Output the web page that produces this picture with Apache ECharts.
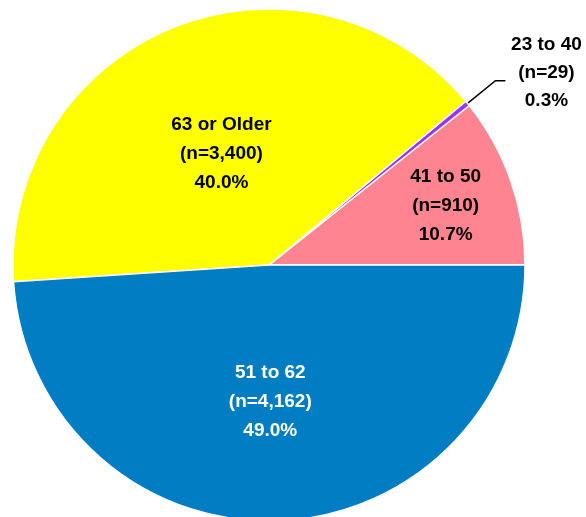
<!DOCTYPE html>
<html>
<head>
<meta charset="utf-8">
<script src="https://cdn.jsdelivr.net/npm/echarts@6/dist/echarts.min.js"></script>
<style>
  html, body { margin: 0; padding: 0; background: #fff; }
  #chart { width: 586px; height: 517px; }
</style>
</head>
<body>
<div id="chart"></div>
<script>
// slice order follows the picture, counter-clockwise from 3 o'clock
var groups = ['41 to 50', '23 to 40', '63 or Older', '51 to 62'];
var counts = [910, 29, 3400, 4162];
var colors = ['#FF8491', '#9B30FF', '#FFFF00', '#007DC3'];
var textColors = ['#000', '#000', '#000', '#fff'];
// inside labels are nudged a bit off the slice middle, like the original
var labelShift = [[53, -16], [0, 0], [1, 10], [-3, 6]];

function fmtNum(v) {
  return v.toString().replace(/\B(?=(\d{3})+(?!\d))/g, ',');
}

var data = groups.map(function (g, i) {
  var item = {
    name: g,
    value: counts[i],
    itemStyle: { color: colors[i] },
    label: { color: textColors[i], offset: labelShift[i] }
  };
  if (g === '23 to 40') {
    // tiny slice, label pulled outside with a leader line
    item.label = {
      position: 'outside',
      align: 'left',
      color: '#000',
      distanceToLabelLine: 2,
      padding: [0, 0, 16, 0], // lifts the text a little above the line end
      formatter: function (p) {
        return '{a|' + p.name + '}\n{a|(n=' + fmtNum(p.value) + ')}\n{a|' + p.percent.toFixed(1) + '%}';
      },
      rich: {
        a: { width: 78, align: 'center', fontSize: 19, fontWeight: 'bold', lineHeight: 28,
             fontFamily: 'Liberation Sans, Arial, sans-serif', color: '#000' }
      }
    };
    item.labelLine = { show: true, length: 36, length2: 10, lineStyle: { color: '#000', width: 1.5 } };
  }
  return item;
});

var chart = echarts.init(document.getElementById('chart'));
chart.setOption({
  animation: false,
  series: [{
    type: 'pie',
    center: [269, 265],
    radius: 256,
    startAngle: 0,
    clockwise: false,
    percentPrecision: 1,
    avoidLabelOverlap: false,
    itemStyle: { borderColor: '#fff', borderWidth: 1.5 },
    label: {
      show: true,
      position: 'inside',
      fontSize: 19,
      fontWeight: 'bold',
      lineHeight: 29,
      fontFamily: 'Liberation Sans, Arial, sans-serif',
      align: 'center',
      formatter: function (p) {
        return p.name + '\n(n=' + fmtNum(p.value) + ')\n' + p.percent.toFixed(1) + '%';
      }
    },
    labelLine: { show: false },
    data: data
  }]
});
</script>
</body>
</html>
